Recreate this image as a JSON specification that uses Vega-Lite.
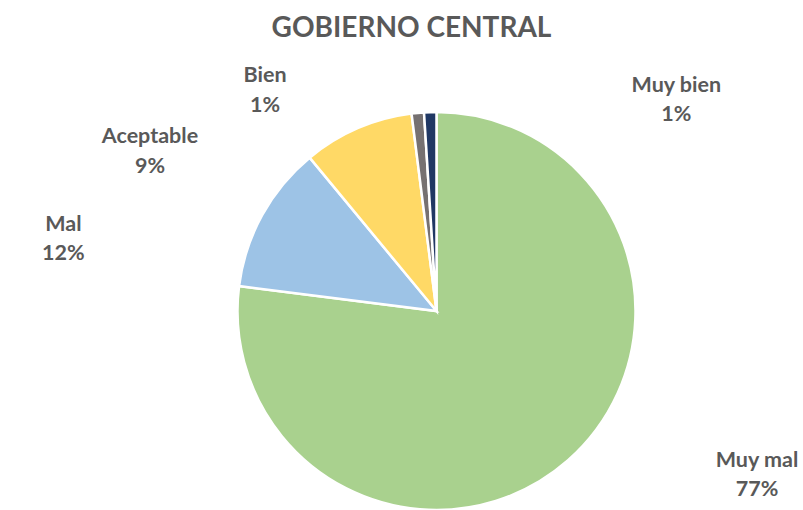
{
  "$schema": "https://vega.github.io/schema/vega-lite/v6.json",
  "width": 733,
  "height": 398,
  "autosize": {"type": "none"},
  "padding": {"left": 70, "top": 112, "right": 0, "bottom": 0},
  "background": "#ffffff",
  "config": {"view": {"stroke": null}},
  "title": {
    "text": "GOBIERNO CENTRAL",
    "font": "Lato",
    "fontSize": 28,
    "fontWeight": "bold",
    "color": "#595959",
    "anchor": "middle",
    "frame": "group",
    "dx": -25,
    "offset": 0,
    "baseline": "alphabetic"
  },
  "data": {
    "values": [
      {"categoria": "Muy mal", "porcentaje": 0.77, "orden": 1},
      {"categoria": "Mal", "porcentaje": 0.12, "orden": 2},
      {"categoria": "Aceptable", "porcentaje": 0.09, "orden": 3},
      {"categoria": "Bien", "porcentaje": 0.01, "orden": 4},
      {"categoria": "Muy bien", "porcentaje": 0.01, "orden": 5}
    ]
  },
  "transform": [
    {"stack": "porcentaje", "groupby": [], "sort": [{"field": "orden", "order": "ascending"}], "as": ["inicio", "fin"]}
  ],
  "encoding": {
    "theta": {"field": "inicio", "type": "quantitative", "stack": null, "scale": {"domain": [0, 1]}},
    "theta2": {"field": "fin"}
  },
  "layer": [
    {
      "mark": {"type": "arc", "stroke": "#ffffff", "strokeWidth": 2.5},
      "encoding": {
        "color": {
          "field": "categoria",
          "type": "nominal",
          "scale": {
            "domain": ["Muy mal", "Mal", "Aceptable", "Bien", "Muy bien"],
            "range": ["#A9D18E", "#9DC3E6", "#FFD966", "#767171", "#203864"]
          },
          "legend": null
        }
      }
    },
    {
      "transform": [{"filter": "datum.categoria === 'Muy mal'"}],
      "layer": [
        {"mark": {"type": "text", "radius": 220, "dx": 320.5, "dy": 375.7, "font": "Lato", "fontSize": 21.5, "fontWeight": "bold", "fill": "#595959", "align": "center", "baseline": "alphabetic"},
         "encoding": {"text": {"field": "categoria", "type": "nominal"}}},
        {"mark": {"type": "text", "radius": 220, "dx": 320.5, "dy": 405, "font": "Lato", "fontSize": 21.5, "fontWeight": "bold", "fill": "#595959", "align": "center", "baseline": "alphabetic"},
         "encoding": {"text": {"field": "porcentaje", "type": "quantitative", "format": ".0%"}}}
      ]
    },
    {
      "transform": [{"filter": "datum.categoria === 'Mal'"}],
      "layer": [
        {"mark": {"type": "text", "radius": 220, "dx": -154.9, "dy": -52.4, "font": "Lato", "fontSize": 21.5, "fontWeight": "bold", "fill": "#595959", "align": "center", "baseline": "alphabetic"},
         "encoding": {"text": {"field": "categoria", "type": "nominal"}}},
        {"mark": {"type": "text", "radius": 220, "dx": -154.9, "dy": -23.4, "font": "Lato", "fontSize": 21.5, "fontWeight": "bold", "fill": "#595959", "align": "center", "baseline": "alphabetic"},
         "encoding": {"text": {"field": "porcentaje", "type": "quantitative", "format": ".0%"}}}
      ]
    },
    {
      "transform": [{"filter": "datum.categoria === 'Aceptable'"}],
      "layer": [
        {"mark": {"type": "text", "radius": 220, "dx": -146.3, "dy": 1.8, "font": "Lato", "fontSize": 21.5, "fontWeight": "bold", "fill": "#595959", "align": "center", "baseline": "alphabetic"},
         "encoding": {"text": {"field": "categoria", "type": "nominal"}}},
        {"mark": {"type": "text", "radius": 220, "dx": -146.3, "dy": 31.5, "font": "Lato", "fontSize": 21.5, "fontWeight": "bold", "fill": "#595959", "align": "center", "baseline": "alphabetic"},
         "encoding": {"text": {"field": "porcentaje", "type": "quantitative", "format": ".0%"}}}
      ]
    },
    {
      "transform": [{"filter": "datum.categoria === 'Bien'"}],
      "layer": [
        {"mark": {"type": "text", "radius": 220, "dx": -143.9, "dy": -11, "font": "Lato", "fontSize": 21.5, "fontWeight": "bold", "fill": "#595959", "align": "center", "baseline": "alphabetic"},
         "encoding": {"text": {"field": "categoria", "type": "nominal"}}},
        {"mark": {"type": "text", "radius": 220, "dx": -143.9, "dy": 19, "font": "Lato", "fontSize": 21.5, "fontWeight": "bold", "fill": "#595959", "align": "center", "baseline": "alphabetic"},
         "encoding": {"text": {"field": "porcentaje", "type": "quantitative", "format": ".0%"}}}
      ]
    },
    {
      "transform": [{"filter": "datum.categoria === 'Muy bien'"}],
      "layer": [
        {"mark": {"type": "text", "radius": 220, "dx": 253.6, "dy": 0.9, "font": "Lato", "fontSize": 21.5, "fontWeight": "bold", "fill": "#595959", "align": "center", "baseline": "alphabetic"},
         "encoding": {"text": {"field": "categoria", "type": "nominal"}}},
        {"mark": {"type": "text", "radius": 220, "dx": 253.6, "dy": 29.6, "font": "Lato", "fontSize": 21.5, "fontWeight": "bold", "fill": "#595959", "align": "center", "baseline": "alphabetic"},
         "encoding": {"text": {"field": "porcentaje", "type": "quantitative", "format": ".0%"}}}
      ]
    }
  ]
}
